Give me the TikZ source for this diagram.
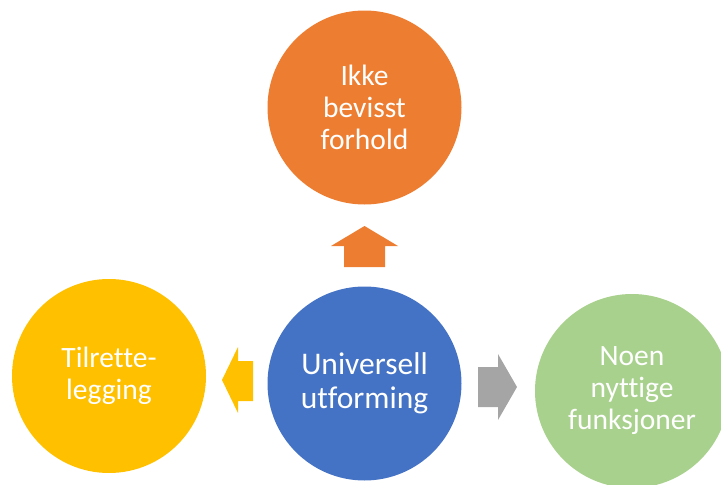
\documentclass[tikz,border=0pt]{standalone}
\usepackage{fontspec}
\setmainfont{Carlito}[Ligatures=NoCommon]
\definecolor{cOrange}{HTML}{ED7D31}
\definecolor{cBlue}{HTML}{4472C4}
\definecolor{cYellow}{HTML}{FFC000}
\definecolor{cGreen}{HTML}{A9D18E}
\definecolor{cGray}{HTML}{A5A5A5}
\tikzset{
  bubble/.style={circle, minimum size=194pt, inner sep=0pt, text=white,
    align=center, font=\fontsize{29.5}{32}\selectfont},
}
\begin{document}
\begin{tikzpicture}[x=1pt, y=-1pt]
\useasboundingbox (0,0) rectangle (721,485);
\clip (0,0) rectangle (721,485);

% circles
\node[bubble, fill=cOrange] (top) at (364.5,107.5) {Ikke\\bevisst\\forhold};
\node[bubble, fill=cBlue, font=\fontsize{31.5}{34}\selectfont] (mid) at (364.5,383.5) {Universell\\utforming};
\node[bubble, fill=cYellow] (left) at (109,376) {Tilrette-\\legging};
\node[bubble, fill=cGreen] (right) at (632,391) {Noen\\nyttige\\funksjoner};

% block arrows pointing out of the centre circle
\fill[cOrange] (364.5,226) -- (398,246) -- (385,246) -- (385,267) -- (344,267)
  -- (344,246) -- (331,246) -- cycle;
\fill[cYellow] (222,380) -- (238,347) -- (238,361) -- (253,361) -- (253,401)
  -- (238,401) -- (238,413) -- cycle;
\fill[cGray] (517,387) -- (498,354) -- (498,367) -- (478,367) -- (478,407)
  -- (498,407) -- (498,420) -- cycle;
\end{tikzpicture}
\end{document}
